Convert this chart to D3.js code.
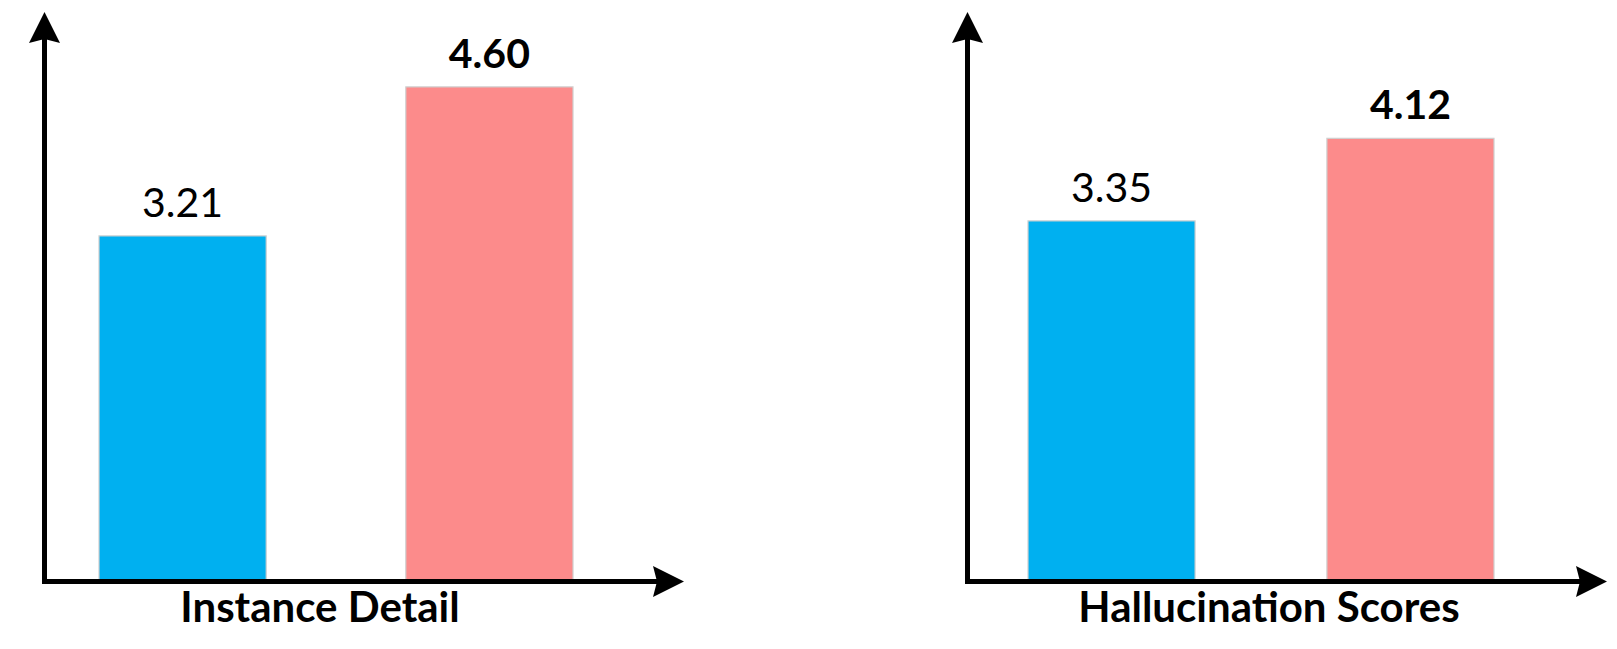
<!DOCTYPE html>
<html>
<head>
<meta charset="utf-8">
<script src="https://cdn.jsdelivr.net/npm/d3@7"></script>
<style>
  html, body { margin: 0; padding: 0; background: #fff; }
  svg { display: block; }
</style>
</head>
<body>
<div class="container"></div>
<script>
// chart data
const panelTitles = ['Instance Detail', 'Hallucination Scores']
const methods = ['Baseline', 'Ours']
const instanceDetail = [3.21, 4.60]
const hallucinationScores = [3.35, 4.12]
const barColors = ['#00B0F0', '#FC8B8B']

const SVG_WIDTH = 1617
const SVG_HEIGHT = 649
const AXIS_WIDTH = 5
const BASE_Y = 581.5
const Y_TIP = 12
const HEAD = 31

// per panel layout: axis origin, bar span, axis end, title centre
const LAYOUT = [
  { x0: 44.5, barLeft: 99, barRight: 573, pad: 0.455, xEnd: 684, titleX: 320 },
  { x0: 967.5, barLeft: 1028, barRight: 1494, pad: 0.441, xEnd: 1607, titleX: 1269 },
]

const svg = d3.select('.container')
  .append('svg')
  .attr('width', SVG_WIDTH)
  .attr('height', SVG_HEIGHT)

const scaleY = d3.scaleLinear()
  .domain([0, 5])
  .range([580, 44])

const fmt = d3.format('.2f')

function arrowHead(g, x, y, angle) {
  g.append('path')
    .attr('d', `M0,0 L${HEAD / 2},${HEAD} L0,${HEAD - 4} L${-HEAD / 2},${HEAD} Z`)
    .attr('fill', '#000')
    .attr('transform', `translate(${x},${y}) rotate(${angle})`)
}

function BarPanel(values, title, lay) {
  const g = svg.append('g')

  const scaleX = d3.scaleBand()
    .domain(methods)
    .range([lay.barLeft, lay.barRight])
    .paddingInner(lay.pad)
    .paddingOuter(0)

  const data = methods.map((m, i) => ({ method: m, value: values[i], color: barColors[i] }))
  const best = d3.max(values)

  // bars
  g.selectAll('rect')
    .data(data)
    .enter()
    .append('rect')
      .attr('x', d => scaleX(d.method))
      .attr('y', d => scaleY(d.value))
      .attr('width', scaleX.bandwidth())
      .attr('height', d => scaleY(0) - scaleY(d.value))
      .attr('fill', d => d.color)
      .attr('stroke', '#cfcfcf')
      .attr('stroke-width', 1.2)

  // value labels, best one in bold
  g.selectAll('text.value')
    .data(data)
    .enter()
    .append('text')
      .attr('class', 'value')
      .attr('x', d => scaleX(d.method) + scaleX.bandwidth() / 2)
      .attr('y', d => scaleY(d.value) - 19)
      .attr('text-anchor', 'middle')
      .attr('font-family', 'Lato, "Open Sans", sans-serif')
      .attr('font-size', '41px')
      .attr('font-weight', d => d.value === best ? 'bold' : 'normal')
      .attr('fill', '#000')
      .text(d => fmt(d.value))

  // axes with arrow heads
  g.append('line')
    .attr('x1', lay.x0).attr('y1', BASE_Y + AXIS_WIDTH / 2)
    .attr('x2', lay.x0).attr('y2', Y_TIP + HEAD - 4)
    .attr('stroke', '#000')
    .attr('stroke-width', AXIS_WIDTH)
  arrowHead(g, lay.x0, Y_TIP, 0)

  g.append('line')
    .attr('x1', lay.x0 - AXIS_WIDTH / 2).attr('y1', BASE_Y)
    .attr('x2', lay.xEnd - HEAD + 4).attr('y2', BASE_Y)
    .attr('stroke', '#000')
    .attr('stroke-width', AXIS_WIDTH)
  arrowHead(g, lay.xEnd, BASE_Y, 90)

  // axis title
  g.append('text')
    .attr('x', lay.titleX)
    .attr('y', 622)
    .attr('text-anchor', 'middle')
    .attr('font-family', 'Lato, "Open Sans", sans-serif')
    .attr('font-size', '42px')
    .attr('font-weight', 'bold')
    .attr('fill', '#000')
    .text(title)
}

BarPanel(instanceDetail, panelTitles[0], LAYOUT[0])
BarPanel(hallucinationScores, panelTitles[1], LAYOUT[1])
</script>
</body>
</html>
